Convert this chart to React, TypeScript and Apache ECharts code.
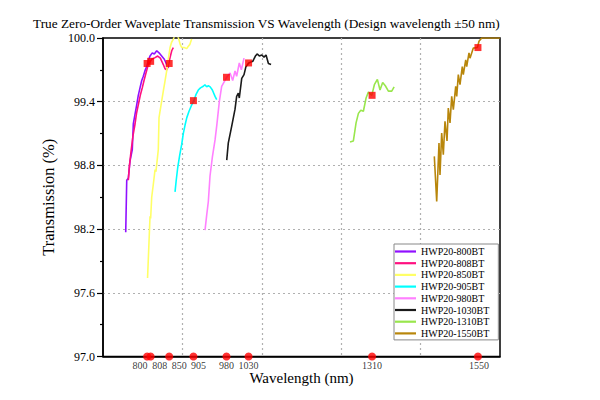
import React, { useEffect, useRef } from "react";
import * as echarts from "echarts";

const seriesNames = [
  "HWP20-800BT",
  "HWP20-808BT",
  "HWP20-850BT",
  "HWP20-905BT",
  "HWP20-980BT",
  "HWP20-1030BT",
  "HWP20-1310BT",
  "HWP20-1550BT",
];

const seriesColors = ["#9010ff", "#ff1080", "#ffff66", "#00ffff", "#ff80ff", "#1a1a1a", "#99e64d", "#b8860b"];

const wl800 = [
  [751.5, 98.17], [753.8, 98.66], [757.4, 98.68], [761.2, 98.84], [766.4, 98.95], [768.7, 99.19],
  [772.5, 99.28], [776.4, 99.37], [780, 99.46], [783.9, 99.53], [787.8, 99.6], [791.4, 99.64],
  [795, 99.69], [799, 99.73], [803, 99.79], [806.6, 99.83], [811.8, 99.86], [816.3, 99.85],
  [821.8, 99.88], [827, 99.86], [833, 99.83], [839, 99.8], [844.4, 99.75], [849, 99.72],
];

const wl808 = [
  [757.4, 98.66], [760, 98.8], [763.5, 98.93], [768, 99.08], [772.6, 99.19], [776, 99.29],
  [780, 99.37], [784.5, 99.46], [789, 99.53], [793, 99.6], [796.8, 99.66], [802.7, 99.75],
  [810.4, 99.8], [818, 99.815], [824, 99.83], [830, 99.81], [836.7, 99.75], [840.6, 99.71],
  [844.4, 99.7], [848, 99.74], [852, 99.815], [855.8, 99.88], [859.4, 99.91],
];

const wl850 = [
  [801, 97.74], [804.5, 98.1], [806.6, 98.32], [808, 98.3], [810.4, 98.5], [814, 98.62],
  [818, 98.76], [820, 98.74], [825.4, 98.95], [827, 99.25], [832, 99.38], [836.7, 99.5],
  [840, 99.58], [844.4, 99.69], [848, 99.8], [852, 99.91], [855.5, 99.96], [859.5, 99.99],
  [863, 100.03], [867, 100.04], [871, 100.0], [875, 99.94], [878.5, 99.91], [884, 99.91],
  [889.8, 99.9], [893, 99.92], [897, 99.94], [901, 99.99],
];

const wl905 = [
  [863.3, 98.55], [866, 98.66], [869.4, 98.78], [874, 98.9], [878.5, 99.0], [882, 99.1],
  [886, 99.18], [890, 99.25], [895, 99.31], [900, 99.36], [907, 99.42], [911, 99.47],
  [916, 99.51], [921, 99.53], [927.4, 99.545], [931, 99.56], [935, 99.54], [938.8, 99.55],
  [943, 99.54], [947.9, 99.51], [951, 99.48], [954, 99.45], [957.8, 99.42],
];

const wl980 = [
  [931.3, 98.19], [935, 98.33], [938.8, 98.46], [942.6, 98.7], [948, 98.88], [954, 99.04],
  [958, 99.18], [963.7, 99.4], [969, 99.545], [975, 99.59], [980.5, 99.63], [988, 99.67],
  [994, 99.6], [999.3, 99.69], [1003, 99.64], [1009, 99.765], [1013.6, 99.7], [1019.7, 99.81],
];

const wl1030 = [
  [980.5, 98.85], [984, 99.01], [991.8, 99.17], [999.3, 99.33], [1003, 99.45], [1006.8, 99.48],
  [1009, 99.435], [1014.5, 99.62], [1019.7, 99.655], [1024, 99.73], [1030.4, 99.765],
  [1039.5, 99.78], [1045.4, 99.83], [1050, 99.85], [1054.4, 99.83], [1060, 99.84], [1065, 99.82],
  [1069.6, 99.84], [1075, 99.76], [1081, 99.75],
];

const wl1310 = [
  [1260, 99.02], [1267.6, 99.03], [1273.7, 99.2], [1279, 99.29], [1284.4, 99.32], [1290.3, 99.31],
  [1296.4, 99.435], [1301.6, 99.49], [1309.3, 99.46], [1315.2, 99.56], [1322, 99.61], [1328, 99.51],
  [1334, 99.58], [1340, 99.55], [1347, 99.5], [1354.6, 99.5], [1360, 99.54],
];

const wl1550 = [
  [1451.1, 98.885], [1456.5, 98.46], [1461.7, 99.01], [1464, 98.71], [1467.8, 99.105],
  [1471.5, 98.9], [1475.3, 99.215], [1479.9, 99.03], [1482.8, 99.34], [1486.7, 99.2],
  [1490.5, 99.45], [1494.2, 99.325], [1499.6, 99.545], [1501.9, 99.45], [1505.5, 99.655],
  [1509.3, 99.56], [1514.5, 99.73], [1516.8, 99.655], [1522.3, 99.795], [1524.5, 99.73],
  [1529.7, 99.86], [1532, 99.81], [1539.5, 99.905], [1548.8, 99.91], [1552.4, 99.97],
  [1558.5, 100.0], [1575, 100.0], [1600, 100.0],
];

const seriesData = [wl800, wl808, wl850, wl905, wl980, wl1030, wl1310, wl1550];

const designWavelengths = [800, 808, 850, 905, 980, 1030, 1310, 1550];
const designTransmission = [99.76, 99.78, 99.76, 99.41, 99.63, 99.765, 99.46, 99.91];

const yTickLabels = ["97.0", "97.6", "98.2", "98.8", "99.4", "100.0"];

const X_MIN = 700;
const X_MAX = 1600;
const Y_MIN = 97;
const Y_MAX = 100;

// label nudges (style only) so that close labels do not overlap
const labelNudge: Record<number, number> = { 800: -7, 808: 9, 850: 10, 905: 5, 1550: 1 };

const FONT = "'Times New Roman', 'Liberation Serif', serif";

export default function App() {
  const ref = useRef<HTMLDivElement>(null);

  useEffect(() => {
    document.body.style.margin = "0";
    if (!ref.current) return;
    const chart = echarts.init(ref.current, undefined, { renderer: "svg" });

    const lineSeries = seriesNames.map((name, i) => ({
      name,
      type: "line",
      xAxisIndex: 0,
      yAxisIndex: 0,
      data: seriesData[i],
      symbol: "none",
      showSymbol: false,
      clip: true,
      lineStyle: { color: seriesColors[i], width: 1.6 },
      itemStyle: { color: seriesColors[i] },
      z: 3,
    }));

    const option: any = {
      animation: false,
      backgroundColor: "#fff",
      title: {
        text: "True Zero-Order Waveplate Transmission VS Wavelength (Design wavelength ±50 nm)",
        left: 28,
        top: 12,
        textStyle: { fontFamily: FONT, fontSize: 13.3, fontWeight: "normal", color: "#000" },
      },
      grid: {
        left: 103,
        top: 38,
        width: 397,
        height: 318.5,
        show: true,
        borderColor: "#000",
        borderWidth: 1.5,
        backgroundColor: "transparent",
      },
      legend: {
        data: seriesNames.map((n) => ({ name: n, icon: "rect" })),
        orient: "vertical",
        left: 394,
        top: 244,
        itemWidth: 21,
        itemHeight: 2.2,
        itemGap: 1.7,
        padding: [2.5, 9, 1.5, 1],
        borderColor: "#888",
        borderWidth: 1,
        backgroundColor: "#fff",
        textStyle: { fontFamily: FONT, fontSize: 10, color: "#000" },
      },
      xAxis: [
        {
          type: "value",
          min: X_MIN,
          max: X_MAX,
          show: false,
        },
        {
          type: "value",
          min: 0,
          max: 5,
          interval: 1,
          position: "bottom",
          name: "Wavelength (nm)",
          nameLocation: "middle",
          nameGap: 14,
          nameTextStyle: { fontFamily: FONT, fontSize: 15, color: "#000" },
          axisLine: { show: true, lineStyle: { color: "#000", width: 1.5 } },
          axisTick: { show: false },
          axisLabel: { show: false },
          splitLine: {
            show: true,
            showMinLine: false,
            showMaxLine: false,
            lineStyle: { color: "#b0b0b0", type: [2, 3], width: 1.2 },
          },
        },
      ],
      yAxis: [
        {
          type: "value",
          min: Y_MIN,
          max: Y_MAX,
          show: false,
        },
        {
          type: "value",
          min: 0,
          max: yTickLabels.length - 1,
          interval: 1,
          position: "left",
          name: "Transmission (%)",
          nameLocation: "middle",
          nameGap: 37,
          nameTextStyle: { fontFamily: FONT, fontSize: 16.5, color: "#000" },
          axisLine: { show: true, lineStyle: { color: "#000", width: 1.5 } },
          axisTick: { show: true, inside: false, length: 6, lineStyle: { color: "#000", width: 1.2 } },
          minorTick: { show: true, splitNumber: 2, length: 3, lineStyle: { color: "#000", width: 1.2 } },
          axisLabel: {
            show: true,
            margin: 8,
            fontFamily: FONT,
            fontSize: 12,
            color: "#000",
            formatter: (v: number) => yTickLabels[Math.round(v)] ?? "",
          },
          splitLine: {
            show: true,
            showMinLine: false,
            showMaxLine: false,
            lineStyle: { color: "#b0b0b0", type: [2, 3], width: 1.2 },
          },
        },
      ],
      series: [
        ...lineSeries,
        {
          name: "design",
          type: "scatter",
          xAxisIndex: 0,
          yAxisIndex: 0,
          symbol: "rect",
          symbolSize: 7,
          itemStyle: { color: "#ff0000" },
          data: designWavelengths.map((w, i) => [w, designTransmission[i]]),
          z: 5,
        },
        {
          name: "axisMarks",
          type: "scatter",
          xAxisIndex: 0,
          yAxisIndex: 0,
          symbol: "circle",
          symbolSize: 8,
          clip: false,
          itemStyle: { color: "#ff0000" },
          data: designWavelengths.map((w) => ({
            value: [w, Y_MIN],
            label: { offset: [labelNudge[w] ?? 0, 0] },
          })),
          label: {
            show: true,
            position: "bottom",
            distance: 0,
            fontFamily: FONT,
            fontSize: 10,
            color: "#000",
            formatter: (p: any) => String(p.value[0]),
          },
          z: 6,
        },
      ],
    };

    chart.setOption(option);
    return () => chart.dispose();
  }, []);

  return <div ref={ref} style={{ width: 600, height: 400 }} />;
}
